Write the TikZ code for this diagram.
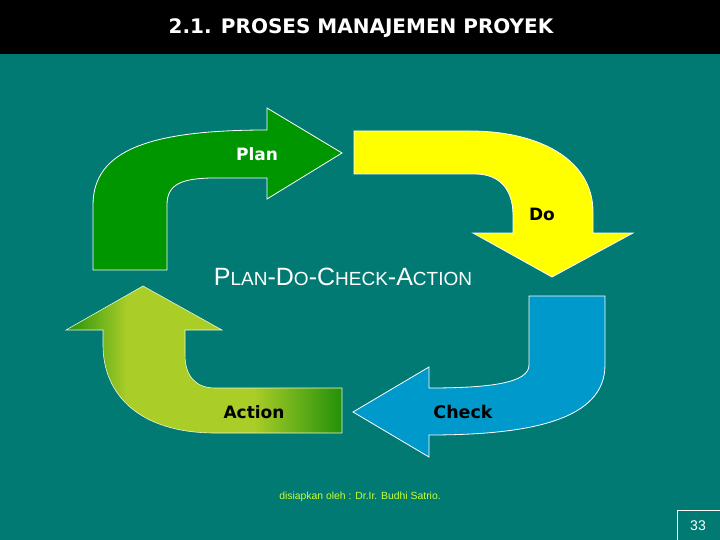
\documentclass[tikz,border=0pt]{standalone}
\usepackage{fontspec}
\setmainfont{Liberation Sans}
\newfontfamily\labelfont{DejaVu Sans}
\definecolor{slideteal}{RGB}{0,122,115}
\definecolor{plangreen}{RGB}{0,150,0}
\definecolor{doyellow}{RGB}{255,255,0}
\definecolor{checkblue}{RGB}{0,153,204}
\definecolor{actiondark}{RGB}{35,145,10}
\definecolor{actionlight}{RGB}{170,205,40}
\definecolor{footeryellow}{RGB}{204,255,51}
\pgfdeclarehorizontalshading{actionshade}{100bp}{color(0bp)=(actiondark); color(25bp)=(actiondark); color(36bp)=(actionlight); color(59bp)=(actionlight); color(75bp)=(actiondark); color(100bp)=(actiondark)}
\newcommand{\outline}{0.8pt}
\newcommand{\smallcap}[1]{{\fontsize{19}{21}\selectfont #1}}

\begin{document}
\begin{tikzpicture}[x=1pt,y=-1pt]
\useasboundingbox (0,0) rectangle (720,540);
\fill[slideteal] (0,0) rectangle (720,540);
\fill[black] (0,0) rectangle (720,54);
\node[white] (title) at (361,28) {\labelfont\bfseries\fontsize{20}{23}\selectfont 2.1. PROSES MANAJEMEN PROYEK};
%Plan
\draw[white, line width=\outline, fill=plangreen] (93,270) -- (93,205) .. controls (93,150) and (150,130) .. (267,130) -- (267,108) -- (342,153) -- (267,199) -- (267,178) -- (215,178) .. controls (180,178) and (167,185) .. (167,205) -- (167,270) -- cycle;
\node[white, font=\labelfont\bfseries\fontsize{17}{20}\selectfont] (plan) at (257,154) {Plan};
%Do
\draw[white, line width=\outline, fill=doyellow] (354,131) -- (470,131) .. controls (540,131) and (593,160) .. (593,212) -- (593,233) -- (633,233) -- (552,277) -- (473,233) -- (513,233) -- (513,215) .. controls (513,190) and (500,174) .. (475,174) -- (354,174) -- cycle;
\node[black, font=\labelfont\bfseries\fontsize{17}{20}\selectfont] (do) at (542,214) {Do};
%Check
\draw[white, line width=\outline, fill=checkblue] (529,296) -- (605,296) -- (605,365) .. controls (605,420) and (530,435) .. (429,435) -- (429,457) -- (353,412) -- (429,367) -- (429,388) .. controls (490,388) and (529,383) .. (529,365) -- cycle;
\node[black, font=\labelfont\bfseries\fontsize{17.5}{20}\selectfont] (check) at (463,412) {Check};
%Action
\draw[white!80!actionlight, line width=0.6pt, shading=actionshade] (342,388) -- (342,433) -- (215,433) .. controls (140,433) and (103,395) .. (103,345) -- (103,330) -- (66,330) -- (143,286) -- (222,330) -- (185,330) -- (185,355) .. controls (185,375) and (195,388) .. (215,388) -- cycle;
\node[black, font=\labelfont\bfseries\fontsize{17}{20}\selectfont] (action) at (254,412) {Action};
%PDCA
\node[white, font=\fontsize{25}{29}\selectfont] (pdca) at (343,277) {P\smallcap{LAN}-D\smallcap{O}-C\smallcap{HECK}-A\smallcap{CTION}};
\node[footeryellow, font=\fontsize{10.4}{12}\selectfont] (credit) at (360,497) {disiapkan oleh : Dr.Ir. Budhi Satrio.};
\draw[white, line width=1pt] (677,510) rectangle (725,545);
\node[white, font=\fontsize{14}{16}\selectfont] (pagenum) at (698,526) {33};
\end{tikzpicture}
\end{document}
